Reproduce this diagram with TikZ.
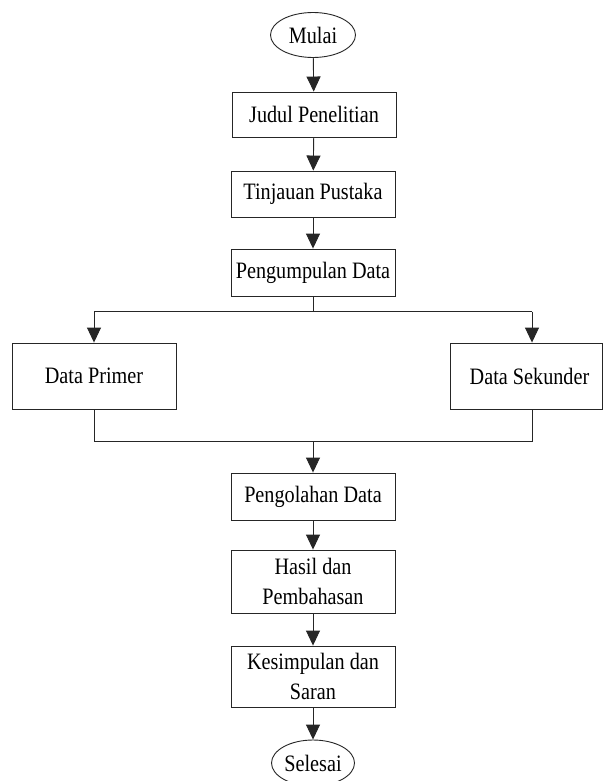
\documentclass[tikz,border=0pt]{standalone}
\usepackage{fontspec}
\setmainfont{Liberation Serif}[FakeStretch=0.86]
\usetikzlibrary{arrows.meta,shapes.geometric}
\begin{document}
\begin{tikzpicture}[x=1pt,y=-1pt,
  line width=0.9pt,
  every node/.style={font=\fontsize{23.5}{30}\selectfont, text=black, align=center, inner sep=0pt},
  procbox/.style={draw=black!85, rectangle, minimum width=164pt},
  termin/.style={draw=black!85, ellipse},
  conn/.style={draw=black!85},
  arr/.style={conn, -{Triangle[width=14pt,length=15pt]}}
]
\useasboundingbox (0,0) rectangle (603,781);
\clip (0,0) rectangle (603,781);
\fill[white] (0,0) rectangle (603,781);

\node[termin, minimum width=85pt, minimum height=45pt] (mulai) at (313,35) {Mulai};
\node[procbox, minimum height=45pt] (judul) at (314,114.5) {Judul Penelitian};
\node[procbox, minimum height=46pt] (tinjau) at (313,194) {Tinjauan Pustaka};
\node[procbox, minimum height=47pt] (kumpul) at (313,272.5) {Pengumpulan Data};
\node[procbox, minimum height=66pt] (primer) at (94,376) {Data Primer};
\node[procbox, minimum height=66pt, minimum width=152pt] (sekunder) at (526,376) {\hspace*{7pt}Data Sekunder};
\node[procbox, minimum height=47pt] (olah) at (313,496.5) {Pengolahan Data};
\node[procbox, minimum height=63pt] (hasil) at (313,581.5) {Hasil dan\\Pembahasan};
\node[procbox, minimum height=61pt] (simpul) at (313,676.5) {Kesimpulan dan\\Saran};
\node[termin, minimum width=83pt, minimum height=46pt] (selesai) at (313,763) {Selesai};

\coordinate (split) at (313,311.7);
\coordinate (sl) at (94,311.7);
\coordinate (sr) at (532,311.7);
\coordinate (ml) at (94,441);
\coordinate (mr) at (532,441);
\coordinate (mc) at (313,441);

\draw[arr] (mulai) -- (judul);
\draw[arr] (judul) -- (tinjau);
\draw[arr] (tinjau) -- (kumpul);
\draw[conn] (kumpul.south) -- (split);
\draw[conn] (sl) -- (sr);
\draw[arr] (sl) -- (primer.north);
\draw[arr] (sr) -- (sr |- sekunder.north);
\draw[conn] (primer.south) -- (ml) -- (mr) -- (mr |- sekunder.south);
\draw[arr] (mc) -- (olah.north);
\draw[arr] (olah) -- (hasil);
\draw[arr] (hasil) -- (simpul);
\draw[arr] (simpul) -- (selesai);
\end{tikzpicture}
\end{document}
